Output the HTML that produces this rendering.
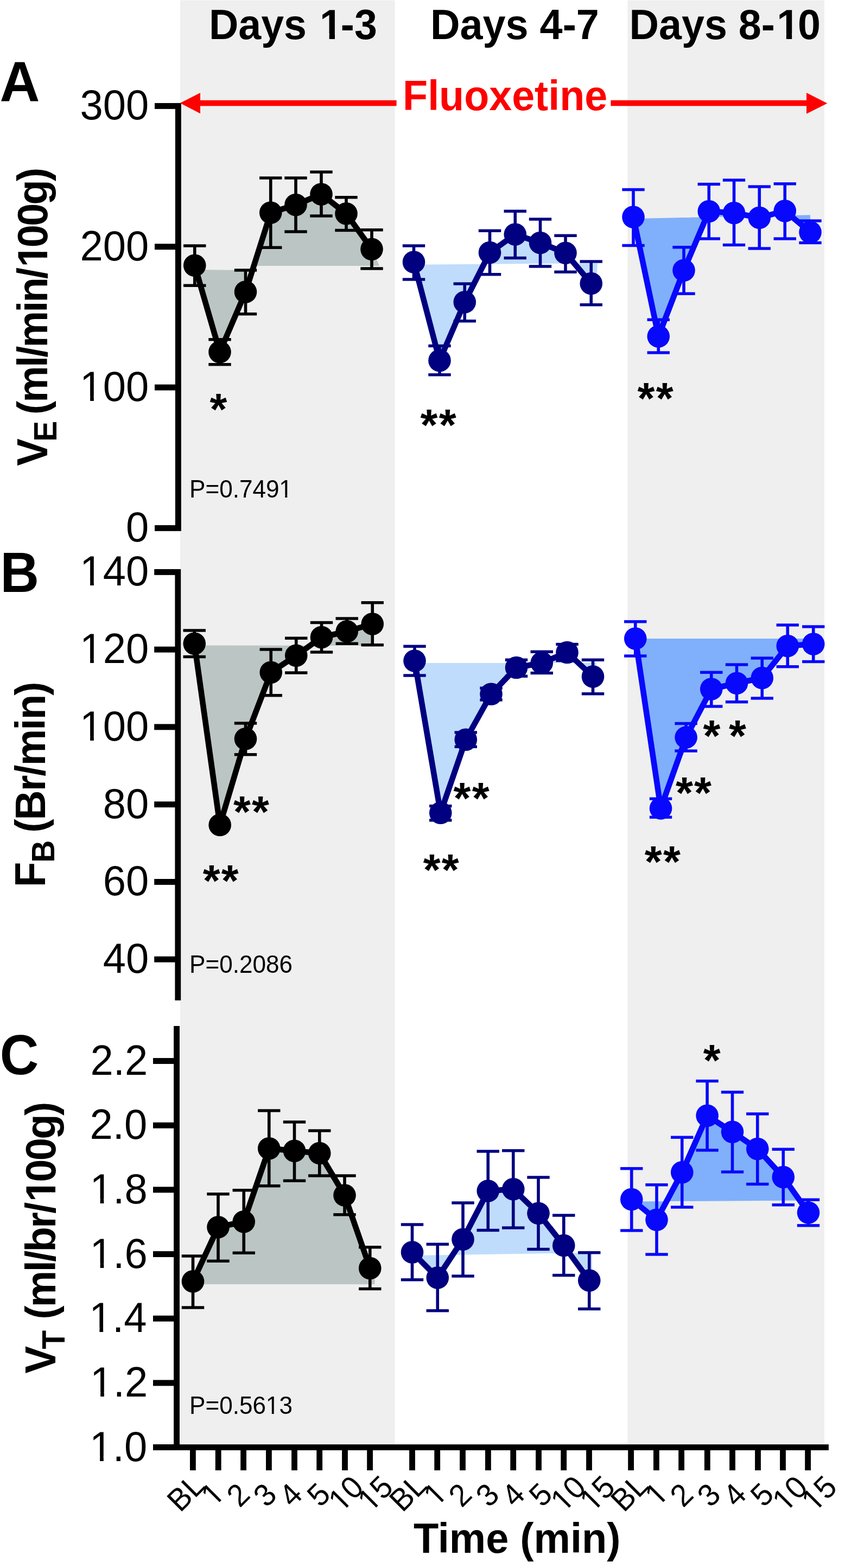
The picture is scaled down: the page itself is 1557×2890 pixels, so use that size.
<!DOCTYPE html>
<html lang="en"><head><meta charset="utf-8"><title>Fluoxetine ventilatory responses</title>
<style>
html,body{margin:0;padding:0;background:#fff;}
body{width:1557px;height:2890px;overflow:hidden;}
svg{display:block;}
text{font-family:"Liberation Sans",sans-serif;}
</style></head><body>
<svg width="1557" height="2890" viewBox="0 0 1557 2890">
<defs><clipPath id="c1r" clipPathUnits="userSpaceOnUse"><path d="M-400 -1700H1600V-225H696V60H515V-225H-400Z"/></clipPath><clipPath id="c1b" clipPathUnits="userSpaceOnUse"><path d="M-400 -1700H1600V-262H759V60H478V-262H-400Z"/></clipPath></defs>
<rect x="0" y="0" width="1557" height="2890" fill="#ffffff"/>
<rect x="332" y="0.5" width="395.6" height="2666.5" fill="#efefef"/>
<rect x="1156.3" y="0.5" width="362.6" height="2666.5" fill="#efefef"/>
<polygon fill="#bbc6c4" points="358.8,497.0 406.5,648.8 454.0,538.0 455.0,498.0"/>
<polygon fill="#bbc6c4" points="470.0,490.0 500.8,394.0 547.0,379.5 594.0,360.0 640.0,395.8 687.0,461.2 699.0,490.0"/>
<polygon fill="#bfdcfc" points="762.5,487.8 1101.0,485.2 1099.0,522.0 1092.2,524.0 1045.0,467.8 998.5,449.0 952.2,433.5 905.5,467.0 859.2,558.2 813.0,666.0 808.0,664.0"/>
<polygon fill="#80b0fb" points="1167.0,403.0 1493.0,396.2 1493.0,428.0 1447.8,389.8 1400.8,402.2 1354.0,393.5 1307.8,390.5 1261.5,499.2 1214.8,621.0 1212.0,620.0"/>
<polygon fill="#bbc6c4" points="358.2,1189.5 689.0,1190.0 686.0,1150.0 642.2,1165.2 595.5,1176.0 548.8,1209.8 502.2,1240.8 455.5,1363.2 408.2,1522.0 403.0,1520.0"/>
<polygon fill="#bfdcfc" points="764.0,1222.0 1099.0,1222.0 1096.0,1247.0 1048.0,1204.0 1001.2,1223.2 954.5,1232.0 908.0,1280.8 861.2,1364.8 814.8,1499.7 810.0,1498.0"/>
<polygon fill="#80b0fb" points="1170.8,1177.0 1499.0,1177.0 1499.0,1187.0 1454.2,1192.0 1407.2,1251.0 1360.5,1260.8 1313.8,1271.5 1267.1,1360.6 1220.5,1491.4 1216.0,1490.0"/>
<polygon fill="#bbc6c4" points="355.5,2367.0 690.5,2367.0 690.5,2337.0 683.8,2338.5 637.0,2204.0 590.8,2126.5 544.5,2122.2 497.8,2117.8 451.2,2252.8 404.0,2262.8 357.5,2362.8"/>
<polygon fill="#bfdcfc" points="759.5,2314.0 1091.0,2309.0 1091.0,2345.0 1088.8,2361.0 1041.8,2296.5 995.0,2237.2 948.8,2192.8 902.2,2196.0 856.0,2285.2 809.2,2356.0 759.5,2308.0"/>
<polygon fill="#80b0fb" points="1163.8,2214.6 1489.0,2212.4 1489.5,2235.0 1445.2,2170.5 1397.8,2118.5 1351.5,2087.2 1305.1,2057.2 1258.8,2161.8 1212.0,2249.2 1163.8,2210.5"/>
<rect x="322.90" y="189.90" width="10.90" height="788.90" fill="#000000"/>
<rect x="285.00" y="189.95" width="38.90" height="10.90" fill="#000000"/>
<text transform="translate(147.55,220.4) scale(0.974,1)" font-size="78">300</text>
<rect x="285.00" y="449.28" width="38.90" height="10.90" fill="#000000"/>
<text transform="translate(147.55,479.73) scale(0.974,1)" font-size="78">200</text>
<rect x="285.00" y="708.61" width="38.90" height="10.90" fill="#000000"/>
<g transform="translate(147.55,739.06) scale(0.037096,0.038086)" font-size="2048"><text transform="translate(-14,0)" clip-path="url(#c1r)">1</text><text x="1139" xml:space="preserve">00</text></g>
<rect x="285.00" y="967.94" width="38.90" height="10.90" fill="#000000"/>
<text transform="translate(232.05,998.39) scale(0.974,1)" font-size="78">0</text>
<rect x="322.40" y="1049.00" width="10.80" height="794.80" fill="#000000"/>
<rect x="284.20" y="1048.95" width="39.20" height="10.90" fill="#000000"/>
<g transform="translate(147.55,1079.4) scale(0.037096,0.038086)" font-size="2048"><text transform="translate(-14,0)" clip-path="url(#c1r)">1</text><text x="1139" xml:space="preserve">40</text></g>
<rect x="284.20" y="1191.71" width="39.20" height="10.90" fill="#000000"/>
<g transform="translate(147.55,1222.16) scale(0.037096,0.038086)" font-size="2048"><text transform="translate(-14,0)" clip-path="url(#c1r)">1</text><text x="1139" xml:space="preserve">20</text></g>
<rect x="284.20" y="1334.47" width="39.20" height="10.90" fill="#000000"/>
<g transform="translate(147.55,1364.92) scale(0.037096,0.038086)" font-size="2048"><text transform="translate(-14,0)" clip-path="url(#c1r)">1</text><text x="1139" xml:space="preserve">00</text></g>
<rect x="284.20" y="1477.23" width="39.20" height="10.90" fill="#000000"/>
<text transform="translate(189.8,1507.68) scale(0.974,1)" font-size="78">80</text>
<rect x="284.20" y="1619.99" width="39.20" height="10.90" fill="#000000"/>
<text transform="translate(189.8,1650.44) scale(0.974,1)" font-size="78">60</text>
<rect x="284.20" y="1762.75" width="39.20" height="10.90" fill="#000000"/>
<text transform="translate(189.8,1793.2) scale(0.974,1)" font-size="78">40</text>
<rect x="320.10" y="1891.00" width="10.90" height="781.90" fill="#000000"/>
<rect x="282.00" y="1950.05" width="39.10" height="10.90" fill="#000000"/>
<text transform="translate(166.55,1980.5) scale(0.974,1)" font-size="78">2.2</text>
<rect x="282.00" y="2068.73" width="39.10" height="10.90" fill="#000000"/>
<text transform="translate(165.55,2099.18) scale(0.974,1)" font-size="78">2.0</text>
<rect x="282.00" y="2187.41" width="39.10" height="10.90" fill="#000000"/>
<g transform="translate(166.05,2217.86) scale(0.037096,0.038086)" font-size="2048"><text transform="translate(-14,0)" clip-path="url(#c1r)">1</text><text x="1139" xml:space="preserve">.8</text></g>
<rect x="282.00" y="2306.09" width="39.10" height="10.90" fill="#000000"/>
<g transform="translate(166.05,2336.54) scale(0.037096,0.038086)" font-size="2048"><text transform="translate(-14,0)" clip-path="url(#c1r)">1</text><text x="1139" xml:space="preserve">.6</text></g>
<rect x="282.00" y="2424.77" width="39.10" height="10.90" fill="#000000"/>
<g transform="translate(164.8,2455.22) scale(0.037096,0.038086)" font-size="2048"><text transform="translate(-14,0)" clip-path="url(#c1r)">1</text><text x="1139" xml:space="preserve">.4</text></g>
<rect x="282.00" y="2543.45" width="39.10" height="10.90" fill="#000000"/>
<g transform="translate(166.55,2573.9) scale(0.037096,0.038086)" font-size="2048"><text transform="translate(-14,0)" clip-path="url(#c1r)">1</text><text x="1139" xml:space="preserve">.2</text></g>
<rect x="282.00" y="2662.13" width="39.10" height="10.90" fill="#000000"/>
<g transform="translate(165.55,2692.58) scale(0.037096,0.038086)" font-size="2048"><text transform="translate(-14,0)" clip-path="url(#c1r)">1</text><text x="1139" xml:space="preserve">.0</text></g>
<rect x="282.00" y="2662.20" width="1244.90" height="10.80" fill="#000000"/>
<rect x="350.00" y="2672.00" width="10.80" height="38.00" fill="#000000"/>
<rect x="396.80" y="2672.00" width="10.80" height="38.00" fill="#000000"/>
<rect x="443.20" y="2672.00" width="10.80" height="38.00" fill="#000000"/>
<rect x="490.00" y="2672.00" width="10.80" height="38.00" fill="#000000"/>
<rect x="537.10" y="2672.00" width="10.80" height="38.00" fill="#000000"/>
<rect x="583.30" y="2672.00" width="10.80" height="38.00" fill="#000000"/>
<rect x="630.10" y="2672.00" width="10.80" height="38.00" fill="#000000"/>
<rect x="676.20" y="2672.00" width="10.80" height="38.00" fill="#000000"/>
<rect x="754.10" y="2672.00" width="10.80" height="38.00" fill="#000000"/>
<rect x="800.30" y="2672.00" width="10.80" height="38.00" fill="#000000"/>
<rect x="847.10" y="2672.00" width="10.80" height="38.00" fill="#000000"/>
<rect x="894.00" y="2672.00" width="10.80" height="38.00" fill="#000000"/>
<rect x="940.30" y="2672.00" width="10.80" height="38.00" fill="#000000"/>
<rect x="987.10" y="2672.00" width="10.80" height="38.00" fill="#000000"/>
<rect x="1033.30" y="2672.00" width="10.80" height="38.00" fill="#000000"/>
<rect x="1080.10" y="2672.00" width="10.80" height="38.00" fill="#000000"/>
<rect x="1157.20" y="2672.00" width="10.80" height="38.00" fill="#000000"/>
<rect x="1204.00" y="2672.00" width="10.80" height="38.00" fill="#000000"/>
<rect x="1250.20" y="2672.00" width="10.80" height="38.00" fill="#000000"/>
<rect x="1297.90" y="2672.00" width="10.80" height="38.00" fill="#000000"/>
<rect x="1344.10" y="2672.00" width="10.80" height="38.00" fill="#000000"/>
<rect x="1391.10" y="2672.00" width="10.80" height="38.00" fill="#000000"/>
<rect x="1437.10" y="2672.00" width="10.80" height="38.00" fill="#000000"/>
<rect x="1483.20" y="2672.00" width="10.80" height="38.00" fill="#000000"/>
<text transform="translate(332.07,2789.05) rotate(-45) scale(0.97,1)" font-size="57.6">BL</text>
<g transform="translate(394.7,2778.18) rotate(-45) scale(0.027281,0.028125)" font-size="2048"><text transform="translate(-14,0)" clip-path="url(#c1r)">1</text></g>
<text transform="translate(441.77,2780.18) rotate(-45) scale(0.97,1)" font-size="57.6">2</text>
<text transform="translate(490.98,2780.18) rotate(-45) scale(0.97,1)" font-size="57.6">3</text>
<text transform="translate(538.6,2780.12) rotate(-45) scale(0.97,1)" font-size="57.6">4</text>
<text transform="translate(590.02,2779.65) rotate(-45) scale(0.97,1)" font-size="57.6">5</text>
<g transform="translate(629.4,2788.5) rotate(-45) scale(0.027281,0.028125)" font-size="2048"><text transform="translate(-14,0)" clip-path="url(#c1r)">1</text><text x="1139" xml:space="preserve">0</text></g>
<g transform="translate(683.45,2788.12) rotate(-45) scale(0.027281,0.028125)" font-size="2048"><text transform="translate(-14,0)" clip-path="url(#c1r)">1</text><text x="1139" xml:space="preserve">5</text></g>
<text transform="translate(741.38,2789.05) rotate(-45) scale(0.97,1)" font-size="57.6">BL</text>
<g transform="translate(804.7,2778.18) rotate(-45) scale(0.027281,0.028125)" font-size="2048"><text transform="translate(-14,0)" clip-path="url(#c1r)">1</text></g>
<text transform="translate(850.77,2780.18) rotate(-45) scale(0.97,1)" font-size="57.6">2</text>
<text transform="translate(900.98,2780.18) rotate(-45) scale(0.97,1)" font-size="57.6">3</text>
<text transform="translate(948.5,2780.12) rotate(-45) scale(0.97,1)" font-size="57.6">4</text>
<text transform="translate(999.02,2779.65) rotate(-45) scale(0.97,1)" font-size="57.6">5</text>
<g transform="translate(1039,2788.5) rotate(-45) scale(0.027281,0.028125)" font-size="2048"><text transform="translate(-14,0)" clip-path="url(#c1r)">1</text><text x="1139" xml:space="preserve">0</text></g>
<g transform="translate(1092.65,2788.12) rotate(-45) scale(0.027281,0.028125)" font-size="2048"><text transform="translate(-14,0)" clip-path="url(#c1r)">1</text><text x="1139" xml:space="preserve">5</text></g>
<text transform="translate(1149.58,2789.05) rotate(-45) scale(0.97,1)" font-size="57.6">BL</text>
<g transform="translate(1212.5,2778.18) rotate(-45) scale(0.027281,0.028125)" font-size="2048"><text transform="translate(-14,0)" clip-path="url(#c1r)">1</text></g>
<text transform="translate(1258.67,2780.18) rotate(-45) scale(0.97,1)" font-size="57.6">2</text>
<text transform="translate(1308.88,2780.18) rotate(-45) scale(0.97,1)" font-size="57.6">3</text>
<text transform="translate(1356.4,2780.12) rotate(-45) scale(0.97,1)" font-size="57.6">4</text>
<text transform="translate(1407.12,2779.65) rotate(-45) scale(0.97,1)" font-size="57.6">5</text>
<g transform="translate(1447.5,2788.5) rotate(-45) scale(0.027281,0.028125)" font-size="2048"><text transform="translate(-14,0)" clip-path="url(#c1r)">1</text><text x="1139" xml:space="preserve">0</text></g>
<g transform="translate(1501.35,2788.12) rotate(-45) scale(0.027281,0.028125)" font-size="2048"><text transform="translate(-14,0)" clip-path="url(#c1r)">1</text><text x="1139" xml:space="preserve">5</text></g>
<rect x="360.00" y="184.80" width="370.60" height="10.50" fill="#fe0000"/>
<rect x="1125.40" y="184.80" width="364.60" height="10.50" fill="#fe0000"/>
<polygon fill="#fe0000" points="331.8,190 369,171 369,209.2"/>
<polygon fill="#fe0000" points="1524.4,190.4 1486,171.1 1486,209.8"/>
<text transform="translate(742.1,203.1) scale(0.9668,1)" font-size="78" font-weight="bold" fill="#fe0000">Fluoxetine</text>
<g fill="#000000">
<rect x="355.95" y="453.00" width="5.60" height="73.25" fill="#000000"/>
<rect x="338.05" y="450.30" width="41.40" height="5.40" fill="#000000"/>
<rect x="338.05" y="523.55" width="41.40" height="5.40" fill="#000000"/>
<rect x="402.20" y="625.75" width="5.60" height="46.00" fill="#000000"/>
<rect x="384.30" y="623.05" width="41.40" height="5.40" fill="#000000"/>
<rect x="384.30" y="669.05" width="41.40" height="5.40" fill="#000000"/>
<rect x="449.70" y="498.00" width="5.60" height="80.75" fill="#000000"/>
<rect x="431.80" y="495.30" width="41.40" height="5.40" fill="#000000"/>
<rect x="431.80" y="576.05" width="41.40" height="5.40" fill="#000000"/>
<rect x="495.95" y="328.00" width="5.60" height="128.25" fill="#000000"/>
<rect x="478.05" y="325.30" width="41.40" height="5.40" fill="#000000"/>
<rect x="478.05" y="453.55" width="41.40" height="5.40" fill="#000000"/>
<rect x="542.20" y="328.00" width="5.60" height="99.00" fill="#000000"/>
<rect x="524.30" y="325.30" width="41.40" height="5.40" fill="#000000"/>
<rect x="524.30" y="424.30" width="41.40" height="5.40" fill="#000000"/>
<rect x="589.20" y="317.00" width="5.60" height="81.00" fill="#000000"/>
<rect x="571.30" y="314.30" width="41.40" height="5.40" fill="#000000"/>
<rect x="571.30" y="395.30" width="41.40" height="5.40" fill="#000000"/>
<rect x="635.20" y="363.75" width="5.60" height="60.75" fill="#000000"/>
<rect x="617.30" y="361.05" width="41.40" height="5.40" fill="#000000"/>
<rect x="617.30" y="421.80" width="41.40" height="5.40" fill="#000000"/>
<rect x="682.20" y="423.75" width="5.60" height="71.25" fill="#000000"/>
<rect x="664.30" y="421.05" width="41.40" height="5.40" fill="#000000"/>
<rect x="664.30" y="492.30" width="41.40" height="5.40" fill="#000000"/>
</g>
<polyline fill="none" stroke="#000000" stroke-width="10.6" stroke-linejoin="round" points="358.75,489.25 405.00,648.75 452.50,538.00 498.75,392.00 545.00,377.50 592.00,358.00 638.00,393.75 685.00,459.25"/>
<g fill="#000000">
<circle cx="358.75" cy="489.25" r="20.8"/>
<circle cx="405.00" cy="648.75" r="20.8"/>
<circle cx="452.50" cy="538.00" r="20.8"/>
<circle cx="498.75" cy="392.00" r="20.8"/>
<circle cx="545.00" cy="377.50" r="20.8"/>
<circle cx="592.00" cy="358.00" r="20.8"/>
<circle cx="638.00" cy="393.75" r="20.8"/>
<circle cx="685.00" cy="459.25" r="20.8"/>
</g>
<g fill="#000080">
<rect x="759.70" y="453.00" width="5.60" height="62.00" fill="#000080"/>
<rect x="741.80" y="450.30" width="41.40" height="5.40" fill="#000080"/>
<rect x="741.80" y="512.30" width="41.40" height="5.40" fill="#000080"/>
<rect x="807.20" y="637.50" width="5.60" height="53.25" fill="#000080"/>
<rect x="789.30" y="634.80" width="41.40" height="5.40" fill="#000080"/>
<rect x="789.30" y="688.05" width="41.40" height="5.40" fill="#000080"/>
<rect x="853.45" y="523.00" width="5.60" height="68.75" fill="#000080"/>
<rect x="835.55" y="520.30" width="41.40" height="5.40" fill="#000080"/>
<rect x="835.55" y="589.05" width="41.40" height="5.40" fill="#000080"/>
<rect x="899.70" y="425.25" width="5.60" height="80.50" fill="#000080"/>
<rect x="881.80" y="422.55" width="41.40" height="5.40" fill="#000080"/>
<rect x="881.80" y="503.05" width="41.40" height="5.40" fill="#000080"/>
<rect x="946.45" y="389.25" width="5.60" height="86.25" fill="#000080"/>
<rect x="928.55" y="386.55" width="41.40" height="5.40" fill="#000080"/>
<rect x="928.55" y="472.80" width="41.40" height="5.40" fill="#000080"/>
<rect x="992.70" y="404.00" width="5.60" height="87.00" fill="#000080"/>
<rect x="974.80" y="401.30" width="41.40" height="5.40" fill="#000080"/>
<rect x="974.80" y="488.30" width="41.40" height="5.40" fill="#000080"/>
<rect x="1039.20" y="434.25" width="5.60" height="67.00" fill="#000080"/>
<rect x="1021.30" y="431.55" width="41.40" height="5.40" fill="#000080"/>
<rect x="1021.30" y="498.55" width="41.40" height="5.40" fill="#000080"/>
<rect x="1086.45" y="482.00" width="5.60" height="79.75" fill="#000080"/>
<rect x="1068.55" y="479.30" width="41.40" height="5.40" fill="#000080"/>
<rect x="1068.55" y="559.05" width="41.40" height="5.40" fill="#000080"/>
</g>
<polyline fill="none" stroke="#000080" stroke-width="10.6" stroke-linejoin="round" points="762.50,483.00 810.00,664.50 856.25,556.75 902.50,465.50 949.25,432.00 995.50,447.50 1042.00,466.25 1089.25,522.50"/>
<g fill="#000080">
<circle cx="762.50" cy="483.00" r="20.8"/>
<circle cx="810.00" cy="664.50" r="20.8"/>
<circle cx="856.25" cy="556.75" r="20.8"/>
<circle cx="902.50" cy="465.50" r="20.8"/>
<circle cx="949.25" cy="432.00" r="20.8"/>
<circle cx="995.50" cy="447.50" r="20.8"/>
<circle cx="1042.00" cy="466.25" r="20.8"/>
<circle cx="1089.25" cy="522.50" r="20.8"/>
</g>
<g fill="#0808fc">
<rect x="1164.20" y="349.50" width="5.60" height="103.00" fill="#0808fc"/>
<rect x="1146.30" y="346.80" width="41.40" height="5.40" fill="#0808fc"/>
<rect x="1146.30" y="449.80" width="41.40" height="5.40" fill="#0808fc"/>
<rect x="1210.45" y="589.25" width="5.60" height="60.75" fill="#0808fc"/>
<rect x="1192.55" y="586.55" width="41.40" height="5.40" fill="#0808fc"/>
<rect x="1192.55" y="647.30" width="41.40" height="5.40" fill="#0808fc"/>
<rect x="1257.20" y="455.75" width="5.60" height="85.50" fill="#0808fc"/>
<rect x="1239.30" y="453.05" width="41.40" height="5.40" fill="#0808fc"/>
<rect x="1239.30" y="538.55" width="41.40" height="5.40" fill="#0808fc"/>
<rect x="1303.45" y="339.50" width="5.60" height="100.50" fill="#0808fc"/>
<rect x="1285.55" y="336.80" width="41.40" height="5.40" fill="#0808fc"/>
<rect x="1285.55" y="437.30" width="41.40" height="5.40" fill="#0808fc"/>
<rect x="1349.70" y="332.00" width="5.60" height="119.50" fill="#0808fc"/>
<rect x="1331.80" y="329.30" width="41.40" height="5.40" fill="#0808fc"/>
<rect x="1331.80" y="448.80" width="41.40" height="5.40" fill="#0808fc"/>
<rect x="1396.45" y="344.00" width="5.60" height="114.00" fill="#0808fc"/>
<rect x="1378.55" y="341.30" width="41.40" height="5.40" fill="#0808fc"/>
<rect x="1378.55" y="455.30" width="41.40" height="5.40" fill="#0808fc"/>
<rect x="1443.45" y="338.75" width="5.60" height="101.25" fill="#0808fc"/>
<rect x="1425.55" y="336.05" width="41.40" height="5.40" fill="#0808fc"/>
<rect x="1425.55" y="437.30" width="41.40" height="5.40" fill="#0808fc"/>
<rect x="1490.20" y="407.00" width="5.60" height="40.50" fill="#0808fc"/>
<rect x="1472.30" y="404.30" width="41.40" height="5.40" fill="#0808fc"/>
<rect x="1472.30" y="444.80" width="41.40" height="5.40" fill="#0808fc"/>
</g>
<polyline fill="none" stroke="#0808fc" stroke-width="10.6" stroke-linejoin="round" points="1167.00,400.00 1213.25,620.00 1260.00,498.25 1306.25,389.50 1352.50,392.50 1399.25,401.25 1446.25,388.75 1493.00,428.00"/>
<g fill="#0808fc">
<circle cx="1167.00" cy="400.00" r="20.8"/>
<circle cx="1213.25" cy="620.00" r="20.8"/>
<circle cx="1260.00" cy="498.25" r="20.8"/>
<circle cx="1306.25" cy="389.50" r="20.8"/>
<circle cx="1352.50" cy="392.50" r="20.8"/>
<circle cx="1399.25" cy="401.25" r="20.8"/>
<circle cx="1446.25" cy="388.75" r="20.8"/>
<circle cx="1493.00" cy="428.00" r="20.8"/>
</g>
<g fill="#000000">
<rect x="355.45" y="1162.00" width="5.60" height="48.50" fill="#000000"/>
<rect x="337.55" y="1159.30" width="41.40" height="5.40" fill="#000000"/>
<rect x="337.55" y="1207.80" width="41.40" height="5.40" fill="#000000"/>
<rect x="449.70" y="1333.00" width="5.60" height="57.75" fill="#000000"/>
<rect x="431.80" y="1330.30" width="41.40" height="5.40" fill="#000000"/>
<rect x="431.80" y="1388.05" width="41.40" height="5.40" fill="#000000"/>
<rect x="496.45" y="1197.00" width="5.60" height="84.75" fill="#000000"/>
<rect x="478.55" y="1194.30" width="41.40" height="5.40" fill="#000000"/>
<rect x="478.55" y="1279.05" width="41.40" height="5.40" fill="#000000"/>
<rect x="542.95" y="1176.25" width="5.60" height="63.75" fill="#000000"/>
<rect x="525.05" y="1173.55" width="41.40" height="5.40" fill="#000000"/>
<rect x="525.05" y="1237.30" width="41.40" height="5.40" fill="#000000"/>
<rect x="589.70" y="1147.50" width="5.60" height="54.50" fill="#000000"/>
<rect x="571.80" y="1144.80" width="41.40" height="5.40" fill="#000000"/>
<rect x="571.80" y="1199.30" width="41.40" height="5.40" fill="#000000"/>
<rect x="636.45" y="1140.00" width="5.60" height="46.25" fill="#000000"/>
<rect x="618.55" y="1137.30" width="41.40" height="5.40" fill="#000000"/>
<rect x="618.55" y="1183.55" width="41.40" height="5.40" fill="#000000"/>
<rect x="683.45" y="1110.75" width="5.60" height="78.00" fill="#000000"/>
<rect x="665.55" y="1108.05" width="41.40" height="5.40" fill="#000000"/>
<rect x="665.55" y="1186.05" width="41.40" height="5.40" fill="#000000"/>
</g>
<polyline fill="none" stroke="#000000" stroke-width="10.6" stroke-linejoin="round" points="358.25,1186.25 405.20,1520.50 452.50,1361.75 499.25,1239.25 545.75,1208.25 592.50,1174.50 639.25,1163.75 686.25,1150.00"/>
<g fill="#000000">
<circle cx="358.25" cy="1186.25" r="20.8"/>
<circle cx="405.20" cy="1520.50" r="20.8"/>
<circle cx="452.50" cy="1361.75" r="20.8"/>
<circle cx="499.25" cy="1239.25" r="20.8"/>
<circle cx="545.75" cy="1208.25" r="20.8"/>
<circle cx="592.50" cy="1174.50" r="20.8"/>
<circle cx="639.25" cy="1163.75" r="20.8"/>
<circle cx="686.25" cy="1150.00" r="20.8"/>
</g>
<g fill="#000080">
<rect x="761.20" y="1191.25" width="5.60" height="53.75" fill="#000080"/>
<rect x="743.30" y="1188.55" width="41.40" height="5.40" fill="#000080"/>
<rect x="743.30" y="1242.30" width="41.40" height="5.40" fill="#000080"/>
<rect x="808.95" y="1485.60" width="5.60" height="26.20" fill="#000080"/>
<rect x="791.05" y="1482.90" width="41.40" height="5.40" fill="#000080"/>
<rect x="791.05" y="1509.10" width="41.40" height="5.40" fill="#000080"/>
<rect x="855.45" y="1350.00" width="5.60" height="26.25" fill="#000080"/>
<rect x="837.55" y="1347.30" width="41.40" height="5.40" fill="#000080"/>
<rect x="837.55" y="1373.55" width="41.40" height="5.40" fill="#000080"/>
<rect x="902.20" y="1268.25" width="5.60" height="21.75" fill="#000080"/>
<rect x="884.30" y="1265.55" width="41.40" height="5.40" fill="#000080"/>
<rect x="884.30" y="1287.30" width="41.40" height="5.40" fill="#000080"/>
<rect x="948.70" y="1216.25" width="5.60" height="30.00" fill="#000080"/>
<rect x="930.80" y="1213.55" width="41.40" height="5.40" fill="#000080"/>
<rect x="930.80" y="1243.55" width="41.40" height="5.40" fill="#000080"/>
<rect x="995.45" y="1201.25" width="5.60" height="39.25" fill="#000080"/>
<rect x="977.55" y="1198.55" width="41.40" height="5.40" fill="#000080"/>
<rect x="977.55" y="1237.80" width="41.40" height="5.40" fill="#000080"/>
<rect x="1042.20" y="1187.50" width="5.60" height="30.00" fill="#000080"/>
<rect x="1024.30" y="1184.80" width="41.40" height="5.40" fill="#000080"/>
<rect x="1024.30" y="1214.80" width="41.40" height="5.40" fill="#000080"/>
<rect x="1089.70" y="1216.25" width="5.60" height="62.50" fill="#000080"/>
<rect x="1071.80" y="1213.55" width="41.40" height="5.40" fill="#000080"/>
<rect x="1071.80" y="1276.05" width="41.40" height="5.40" fill="#000080"/>
</g>
<polyline fill="none" stroke="#000080" stroke-width="10.6" stroke-linejoin="round" points="764.00,1218.00 811.75,1498.20 858.25,1363.25 905.00,1279.25 951.50,1230.50 998.25,1221.75 1045.00,1202.50 1092.50,1247.00"/>
<g fill="#000080">
<circle cx="764.00" cy="1218.00" r="20.8"/>
<circle cx="811.75" cy="1498.20" r="20.8"/>
<circle cx="858.25" cy="1363.25" r="20.8"/>
<circle cx="905.00" cy="1279.25" r="20.8"/>
<circle cx="951.50" cy="1230.50" r="20.8"/>
<circle cx="998.25" cy="1221.75" r="20.8"/>
<circle cx="1045.00" cy="1202.50" r="20.8"/>
<circle cx="1092.50" cy="1247.00" r="20.8"/>
</g>
<g fill="#0808fc">
<rect x="1167.95" y="1145.75" width="5.60" height="63.25" fill="#0808fc"/>
<rect x="1150.05" y="1143.05" width="41.40" height="5.40" fill="#0808fc"/>
<rect x="1150.05" y="1206.30" width="41.40" height="5.40" fill="#0808fc"/>
<rect x="1214.70" y="1472.20" width="5.60" height="34.00" fill="#0808fc"/>
<rect x="1196.80" y="1469.50" width="41.40" height="5.40" fill="#0808fc"/>
<rect x="1196.80" y="1503.50" width="41.40" height="5.40" fill="#0808fc"/>
<rect x="1261.30" y="1333.50" width="5.60" height="50.50" fill="#0808fc"/>
<rect x="1243.40" y="1330.80" width="41.40" height="5.40" fill="#0808fc"/>
<rect x="1243.40" y="1381.30" width="41.40" height="5.40" fill="#0808fc"/>
<rect x="1307.95" y="1239.25" width="5.60" height="62.75" fill="#0808fc"/>
<rect x="1290.05" y="1236.55" width="41.40" height="5.40" fill="#0808fc"/>
<rect x="1290.05" y="1299.30" width="41.40" height="5.40" fill="#0808fc"/>
<rect x="1354.70" y="1225.00" width="5.60" height="68.75" fill="#0808fc"/>
<rect x="1336.80" y="1222.30" width="41.40" height="5.40" fill="#0808fc"/>
<rect x="1336.80" y="1291.05" width="41.40" height="5.40" fill="#0808fc"/>
<rect x="1401.45" y="1213.00" width="5.60" height="74.00" fill="#0808fc"/>
<rect x="1383.55" y="1210.30" width="41.40" height="5.40" fill="#0808fc"/>
<rect x="1383.55" y="1284.30" width="41.40" height="5.40" fill="#0808fc"/>
<rect x="1448.45" y="1152.00" width="5.60" height="76.75" fill="#0808fc"/>
<rect x="1430.55" y="1149.30" width="41.40" height="5.40" fill="#0808fc"/>
<rect x="1430.55" y="1226.05" width="41.40" height="5.40" fill="#0808fc"/>
<rect x="1495.95" y="1155.00" width="5.60" height="64.50" fill="#0808fc"/>
<rect x="1478.05" y="1152.30" width="41.40" height="5.40" fill="#0808fc"/>
<rect x="1478.05" y="1216.80" width="41.40" height="5.40" fill="#0808fc"/>
</g>
<polyline fill="none" stroke="#0808fc" stroke-width="10.6" stroke-linejoin="round" points="1170.75,1177.00 1217.50,1489.90 1264.10,1359.10 1310.75,1270.00 1357.50,1259.25 1404.25,1249.50 1451.25,1190.50 1498.75,1187.00"/>
<g fill="#0808fc">
<circle cx="1170.75" cy="1177.00" r="20.8"/>
<circle cx="1217.50" cy="1489.90" r="20.8"/>
<circle cx="1264.10" cy="1359.10" r="20.8"/>
<circle cx="1310.75" cy="1270.00" r="20.8"/>
<circle cx="1357.50" cy="1259.25" r="20.8"/>
<circle cx="1404.25" cy="1249.50" r="20.8"/>
<circle cx="1451.25" cy="1190.50" r="20.8"/>
<circle cx="1498.75" cy="1187.00" r="20.8"/>
</g>
<g fill="#000000">
<rect x="352.70" y="2315.00" width="5.60" height="95.00" fill="#000000"/>
<rect x="334.80" y="2312.30" width="41.40" height="5.40" fill="#000000"/>
<rect x="334.80" y="2407.30" width="41.40" height="5.40" fill="#000000"/>
<rect x="399.20" y="2200.75" width="5.60" height="123.50" fill="#000000"/>
<rect x="381.30" y="2198.05" width="41.40" height="5.40" fill="#000000"/>
<rect x="381.30" y="2321.55" width="41.40" height="5.40" fill="#000000"/>
<rect x="446.45" y="2193.75" width="5.60" height="115.50" fill="#000000"/>
<rect x="428.55" y="2191.05" width="41.40" height="5.40" fill="#000000"/>
<rect x="428.55" y="2306.55" width="41.40" height="5.40" fill="#000000"/>
<rect x="492.95" y="2047.00" width="5.60" height="138.75" fill="#000000"/>
<rect x="475.05" y="2044.30" width="41.40" height="5.40" fill="#000000"/>
<rect x="475.05" y="2183.05" width="41.40" height="5.40" fill="#000000"/>
<rect x="539.70" y="2068.00" width="5.60" height="108.25" fill="#000000"/>
<rect x="521.80" y="2065.30" width="41.40" height="5.40" fill="#000000"/>
<rect x="521.80" y="2173.55" width="41.40" height="5.40" fill="#000000"/>
<rect x="585.95" y="2084.00" width="5.60" height="83.00" fill="#000000"/>
<rect x="568.05" y="2081.30" width="41.40" height="5.40" fill="#000000"/>
<rect x="568.05" y="2164.30" width="41.40" height="5.40" fill="#000000"/>
<rect x="632.20" y="2167.00" width="5.60" height="71.75" fill="#000000"/>
<rect x="614.30" y="2164.30" width="41.40" height="5.40" fill="#000000"/>
<rect x="614.30" y="2236.05" width="41.40" height="5.40" fill="#000000"/>
<rect x="678.95" y="2298.75" width="5.60" height="76.75" fill="#000000"/>
<rect x="661.05" y="2296.05" width="41.40" height="5.40" fill="#000000"/>
<rect x="661.05" y="2372.80" width="41.40" height="5.40" fill="#000000"/>
</g>
<polyline fill="none" stroke="#000000" stroke-width="10.6" stroke-linejoin="round" points="355.50,2361.75 402.00,2261.75 449.25,2251.75 495.75,2116.75 542.50,2121.25 588.75,2125.50 635.00,2203.00 681.75,2337.50"/>
<g fill="#000000">
<circle cx="355.50" cy="2361.75" r="20.8"/>
<circle cx="402.00" cy="2261.75" r="20.8"/>
<circle cx="449.25" cy="2251.75" r="20.8"/>
<circle cx="495.75" cy="2116.75" r="20.8"/>
<circle cx="542.50" cy="2121.25" r="20.8"/>
<circle cx="588.75" cy="2125.50" r="20.8"/>
<circle cx="635.00" cy="2203.00" r="20.8"/>
<circle cx="681.75" cy="2337.50" r="20.8"/>
</g>
<g fill="#000080">
<rect x="756.70" y="2257.00" width="5.60" height="101.75" fill="#000080"/>
<rect x="738.80" y="2254.30" width="41.40" height="5.40" fill="#000080"/>
<rect x="738.80" y="2356.05" width="41.40" height="5.40" fill="#000080"/>
<rect x="803.45" y="2293.25" width="5.60" height="122.50" fill="#000080"/>
<rect x="785.55" y="2290.55" width="41.40" height="5.40" fill="#000080"/>
<rect x="785.55" y="2413.05" width="41.40" height="5.40" fill="#000080"/>
<rect x="850.20" y="2217.00" width="5.60" height="135.00" fill="#000080"/>
<rect x="832.30" y="2214.30" width="41.40" height="5.40" fill="#000080"/>
<rect x="832.30" y="2349.30" width="41.40" height="5.40" fill="#000080"/>
<rect x="896.45" y="2122.00" width="5.60" height="145.50" fill="#000080"/>
<rect x="878.55" y="2119.30" width="41.40" height="5.40" fill="#000080"/>
<rect x="878.55" y="2264.80" width="41.40" height="5.40" fill="#000080"/>
<rect x="942.95" y="2120.75" width="5.60" height="142.25" fill="#000080"/>
<rect x="925.05" y="2118.05" width="41.40" height="5.40" fill="#000080"/>
<rect x="925.05" y="2260.30" width="41.40" height="5.40" fill="#000080"/>
<rect x="989.20" y="2170.00" width="5.60" height="132.50" fill="#000080"/>
<rect x="971.30" y="2167.30" width="41.40" height="5.40" fill="#000080"/>
<rect x="971.30" y="2299.80" width="41.40" height="5.40" fill="#000080"/>
<rect x="1035.95" y="2240.00" width="5.60" height="110.50" fill="#000080"/>
<rect x="1018.05" y="2237.30" width="41.40" height="5.40" fill="#000080"/>
<rect x="1018.05" y="2347.80" width="41.40" height="5.40" fill="#000080"/>
<rect x="1082.95" y="2308.75" width="5.60" height="103.75" fill="#000080"/>
<rect x="1065.05" y="2306.05" width="41.40" height="5.40" fill="#000080"/>
<rect x="1065.05" y="2409.80" width="41.40" height="5.40" fill="#000080"/>
</g>
<polyline fill="none" stroke="#000080" stroke-width="10.6" stroke-linejoin="round" points="759.50,2308.00 806.25,2355.00 853.00,2284.25 899.25,2195.00 945.75,2191.75 992.00,2236.25 1038.75,2295.50 1085.75,2360.00"/>
<g fill="#000080">
<circle cx="759.50" cy="2308.00" r="20.8"/>
<circle cx="806.25" cy="2355.00" r="20.8"/>
<circle cx="853.00" cy="2284.25" r="20.8"/>
<circle cx="899.25" cy="2195.00" r="20.8"/>
<circle cx="945.75" cy="2191.75" r="20.8"/>
<circle cx="992.00" cy="2236.25" r="20.8"/>
<circle cx="1038.75" cy="2295.50" r="20.8"/>
<circle cx="1085.75" cy="2360.00" r="20.8"/>
</g>
<g fill="#0808fc">
<rect x="1160.95" y="2153.75" width="5.60" height="114.25" fill="#0808fc"/>
<rect x="1143.05" y="2151.05" width="41.40" height="5.40" fill="#0808fc"/>
<rect x="1143.05" y="2265.30" width="41.40" height="5.40" fill="#0808fc"/>
<rect x="1207.20" y="2183.75" width="5.60" height="128.25" fill="#0808fc"/>
<rect x="1189.30" y="2181.05" width="41.40" height="5.40" fill="#0808fc"/>
<rect x="1189.30" y="2309.30" width="41.40" height="5.40" fill="#0808fc"/>
<rect x="1253.95" y="2096.25" width="5.60" height="128.75" fill="#0808fc"/>
<rect x="1236.05" y="2093.55" width="41.40" height="5.40" fill="#0808fc"/>
<rect x="1236.05" y="2222.30" width="41.40" height="5.40" fill="#0808fc"/>
<rect x="1300.30" y="1992.50" width="5.60" height="127.50" fill="#0808fc"/>
<rect x="1282.40" y="1989.80" width="41.40" height="5.40" fill="#0808fc"/>
<rect x="1282.40" y="2117.30" width="41.40" height="5.40" fill="#0808fc"/>
<rect x="1346.70" y="2013.00" width="5.60" height="147.00" fill="#0808fc"/>
<rect x="1328.80" y="2010.30" width="41.40" height="5.40" fill="#0808fc"/>
<rect x="1328.80" y="2157.30" width="41.40" height="5.40" fill="#0808fc"/>
<rect x="1392.95" y="2053.00" width="5.60" height="129.50" fill="#0808fc"/>
<rect x="1375.05" y="2050.30" width="41.40" height="5.40" fill="#0808fc"/>
<rect x="1375.05" y="2179.80" width="41.40" height="5.40" fill="#0808fc"/>
<rect x="1440.45" y="2118.25" width="5.60" height="102.50" fill="#0808fc"/>
<rect x="1422.55" y="2115.55" width="41.40" height="5.40" fill="#0808fc"/>
<rect x="1422.55" y="2218.05" width="41.40" height="5.40" fill="#0808fc"/>
<rect x="1486.70" y="2211.25" width="5.60" height="47.50" fill="#0808fc"/>
<rect x="1468.80" y="2208.55" width="41.40" height="5.40" fill="#0808fc"/>
<rect x="1468.80" y="2256.05" width="41.40" height="5.40" fill="#0808fc"/>
</g>
<polyline fill="none" stroke="#0808fc" stroke-width="10.6" stroke-linejoin="round" points="1163.75,2210.50 1210.00,2248.25 1256.75,2160.75 1303.10,2056.25 1349.50,2086.25 1395.75,2117.50 1443.25,2169.50 1489.50,2235.00"/>
<g fill="#0808fc">
<circle cx="1163.75" cy="2210.50" r="20.8"/>
<circle cx="1210.00" cy="2248.25" r="20.8"/>
<circle cx="1256.75" cy="2160.75" r="20.8"/>
<circle cx="1303.10" cy="2056.25" r="20.8"/>
<circle cx="1349.50" cy="2086.25" r="20.8"/>
<circle cx="1395.75" cy="2117.50" r="20.8"/>
<circle cx="1443.25" cy="2169.50" r="20.8"/>
<circle cx="1489.50" cy="2235.00" r="20.8"/>
</g>
<g transform="translate(384.9,71.8) scale(0.036787,0.038086)" font-size="2048" font-weight="bold"><text x="0" xml:space="preserve">Days </text><text transform="translate(5551,0)" clip-path="url(#c1b)">1</text><text x="6604" xml:space="preserve">-3</text></g>
<text transform="translate(793,71.8) scale(0.9688,1)" font-size="78" font-weight="bold">Days 4-7</text>
<g transform="translate(1159.4,71.8) scale(0.036871,0.038086)" font-size="2048" font-weight="bold"><text x="0" xml:space="preserve">Days 8-</text><text transform="translate(7372,0)" clip-path="url(#c1b)">1</text><text x="8425" xml:space="preserve">0</text></g>
<text transform="translate(-0.5,185.9) scale(0.9856,1)" font-size="103.8" font-weight="bold">A</text>
<text transform="translate(0.6,1090.9) scale(0.9534,1)" font-size="103.8" font-weight="bold">B</text>
<text transform="translate(-0.3,1980.2) scale(0.955,1)" font-size="103.8" font-weight="bold">C</text>
<text transform="translate(87.1,858.8) rotate(-90) scale(0.96,1)" font-size="79.1" font-weight="bold">V</text>
<text transform="translate(104,813.75) rotate(-90) scale(0.96,1)" font-size="59.3" font-weight="bold">E</text>
<g transform="translate(87.1,764.25) rotate(-90) scale(0.037096,0.038086)" font-size="2048" font-weight="bold" letter-spacing="-76.4"><text x="0" xml:space="preserve">(ml/min/</text><text transform="translate(7325.8,0)" clip-path="url(#c1b)">1</text><text x="8302.3" xml:space="preserve">00g)</text></g>
<text transform="translate(83,1634.9) rotate(-90) scale(0.96,1)" font-size="79.1" font-weight="bold">F</text>
<text transform="translate(100.2,1589.75) rotate(-90) scale(0.96,1)" font-size="59.3" font-weight="bold">B</text>
<text transform="translate(83,1534.85) rotate(-90) scale(0.974,1)" font-size="78" font-weight="bold" letter-spacing="-1.88">(Br/min)</text>
<text transform="translate(102.1,2531.5) rotate(-90) scale(0.96,1)" font-size="79.1" font-weight="bold">V</text>
<text transform="translate(119,2486.75) rotate(-90) scale(0.96,1)" font-size="59.3" font-weight="bold">T</text>
<g transform="translate(102.1,2431.75) rotate(-90) scale(0.037096,0.038086)" font-size="2048" font-weight="bold" letter-spacing="-72.2"><text x="0" xml:space="preserve">(ml/br/</text><text transform="translate(5838.6,0)" clip-path="url(#c1b)">1</text><text x="6819.4" xml:space="preserve">00g)</text></g>
<g transform="translate(349,917.1) scale(0.021536,0.022363)" font-size="2048"><text x="0" xml:space="preserve">P=0.749</text><text transform="translate(7673,0)" clip-path="url(#c1r)">1</text></g>
<text transform="translate(349,1793.4) scale(0.963,1)" font-size="45.8">P=0.2086</text>
<g transform="translate(349,2606.2) scale(0.021536,0.022363)" font-size="2048"><text x="0" xml:space="preserve">P=0.56</text><text transform="translate(6534,0)" clip-path="url(#c1r)">1</text><text x="7687" xml:space="preserve">3</text></g>
<text transform="translate(386.55,782.4)" font-size="82" font-weight="bold" letter-spacing="2.2">*</text>
<text transform="translate(774.55,811.4)" font-size="82" font-weight="bold" letter-spacing="2.2">**</text>
<text transform="translate(1174.55,762.4)" font-size="82" font-weight="bold" letter-spacing="2.2">**</text>
<text transform="translate(429.95,1524.2)" font-size="82" font-weight="bold" letter-spacing="2.2">**</text>
<text transform="translate(373.75,1651.1)" font-size="82" font-weight="bold" letter-spacing="2.2">**</text>
<text transform="translate(835.55,1499.4)" font-size="82" font-weight="bold" letter-spacing="2.2">**</text>
<text transform="translate(779.75,1630.5)" font-size="82" font-weight="bold" letter-spacing="2.2">**</text>
<text transform="translate(1295.55,1384.2)" font-size="82" font-weight="bold" letter-spacing="2.2">*</text>
<text transform="translate(1342.95,1384.2)" font-size="82" font-weight="bold" letter-spacing="2.2">*</text>
<text transform="translate(1244.95,1488.6)" font-size="82" font-weight="bold" letter-spacing="2.2">**</text>
<text transform="translate(1187.85,1616)" font-size="82" font-weight="bold" letter-spacing="2.2">**</text>
<text transform="translate(1295.65,1982.4)" font-size="82" font-weight="bold" letter-spacing="2.2">*</text>
<text transform="translate(761.95,2862.3) scale(0.9709,1)" font-size="78" font-weight="bold">Time (min)</text>
</svg>
</body></html>
